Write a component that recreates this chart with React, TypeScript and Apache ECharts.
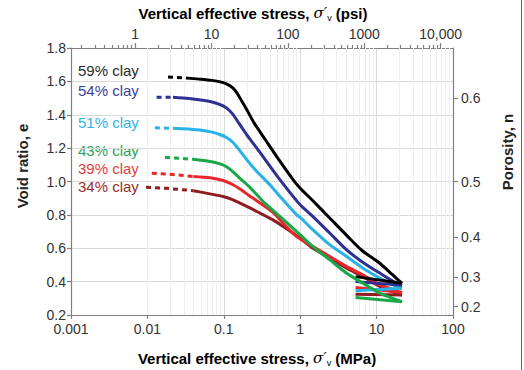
import React, { useEffect, useRef } from "react";
import * as echarts from "echarts";

// ---- Data (MPa, void ratio e) ----
const clayLabels = ["59% clay", "54% clay", "51% clay", "43% clay", "39% clay", "34% clay"];

const head59 = [[0.0186, 1.626], [0.028, 1.622], [0.036, 1.618]];
const load59 = [[0.036, 1.618], [0.05, 1.613], [0.07, 1.606], [0.09, 1.597], [0.11, 1.584], [0.13, 1.562], [0.15, 1.528], [0.17, 1.485], [0.2, 1.43], [0.25, 1.35], [0.35, 1.25], [0.545, 1.12], [0.81, 1.01], [1.0, 0.96], [1.5, 0.88], [2.45, 0.78], [4.2, 0.67], [6.5, 0.585], [11, 0.51], [16, 0.443], [21.5, 0.39]];
const unload59 = [[21.5, 0.39], [5.3, 0.43]];

const head54 = [[0.0132, 1.505], [0.0216, 1.505]];
const load54 = [[0.0216, 1.505], [0.035, 1.497], [0.05, 1.488], [0.07, 1.476], [0.09, 1.46], [0.11, 1.438], [0.13, 1.405], [0.16, 1.345], [0.2, 1.28], [0.27, 1.2], [0.35, 1.13], [0.545, 1.01], [1.0, 0.86], [1.47, 0.79], [2.45, 0.69], [4.06, 0.59], [6.64, 0.515], [11.1, 0.45], [18.3, 0.39], [21.5, 0.378]];
const unload54 = [[21.5, 0.378], [5.3, 0.4]];

const head51 = [[0.01255, 1.322], [0.0216, 1.319]];
const load51 = [[0.0216, 1.319], [0.035, 1.314], [0.0487, 1.309], [0.07, 1.296], [0.09, 1.28], [0.11, 1.262], [0.13, 1.237], [0.16, 1.188], [0.2, 1.13], [0.27, 1.06], [0.33, 1.02], [0.44, 0.96], [0.545, 0.91], [0.9, 0.8], [1.0, 0.785], [1.47, 0.71], [2.45, 0.62], [4.06, 0.55], [6.64, 0.48], [11.1, 0.42], [18.3, 0.37], [21.5, 0.36]];
const unload51 = [[21.5, 0.36], [5.3, 0.345]];

const head43 = [[0.017, 1.145], [0.0395, 1.133]];
const load43 = [[0.0395, 1.133], [0.0659, 1.12], [0.0891, 1.106], [0.11, 1.087], [0.132, 1.058], [0.16, 1.022], [0.22, 0.965], [0.345, 0.87], [0.545, 0.79], [1.0, 0.68], [1.47, 0.61], [2.45, 0.53], [4.06, 0.45], [6.64, 0.39], [11.1, 0.33], [21.5, 0.28]];
const unload43 = [[21.5, 0.28], [5.3, 0.305]];

const head39 = [[0.0114, 1.049], [0.0179, 1.045], [0.04, 1.03]];
const load39 = [[0.04, 1.03], [0.0659, 1.022], [0.0977, 1.006], [0.13, 0.982], [0.163, 0.955], [0.22, 0.912], [0.27, 0.885], [0.44, 0.815], [0.6, 0.75], [0.9, 0.67], [1.47, 0.61], [2.45, 0.55], [4.06, 0.49], [6.64, 0.44], [11.1, 0.38], [18.3, 0.345], [21.5, 0.335]];
const unload39 = [[21.5, 0.335], [5.3, 0.365]];

const head34 = [[0.0096, 0.965], [0.0179, 0.959], [0.04, 0.945]];
const load34 = [[0.04, 0.945], [0.0659, 0.926], [0.0977, 0.91], [0.13, 0.891], [0.163, 0.87], [0.22, 0.842], [0.27, 0.82], [0.44, 0.77], [0.6, 0.73], [1.0, 0.66], [1.47, 0.6], [2.45, 0.54], [4.06, 0.48], [6.64, 0.43], [11.1, 0.37], [18.3, 0.33], [21.5, 0.32]];
const unload34 = [[21.5, 0.32], [5.3, 0.325]];

// tick labels
const mpaTicks = [0.001, 0.01, 0.1, 1, 10, 100];
const psiMajor = [1, 10, 100, 1000, 10000];
const psiLabels = ["1", "10", "100", "1000", "10,000"];
const porosityTicks = [0.2, 0.3, 0.4, 0.5, 0.6];

const MPA_TO_PSI = 145.038;

const colors = ["#000000", "#2e3192", "#29b2e6", "#18a84a", "#e8262b", "#8f1c1e"];
const textColors = ["#2a2a2a", "#3d3f9c", "#32b3e3", "#2ea05a", "#e23c3c", "#9a2d2d"];

const FONT = "Liberation Sans, Arial, sans-serif";

export default function App() {
  const ref = useRef<HTMLDivElement>(null);
  useEffect(() => {
    if (!ref.current) return;
    const chart = echarts.init(ref.current, undefined, { renderer: "svg" });

    const curves = [
      [head59, load59, unload59],
      [head54, load54, unload54],
      [head51, load51, unload51],
      [head43, load43, unload43],
      [head39, load39, unload39],
      [head34, load34, unload34],
    ];

    // minor grid lines (2..9 per decade)
    const minorGrid: number[] = [];
    for (let d = -3; d < 2; d++) {
      for (let k = 2; k <= 9; k++) minorGrid.push(k * Math.pow(10, d));
    }
    const psiMin = Math.log10(0.001 * MPA_TO_PSI);
    const psiMax = Math.log10(100 * MPA_TO_PSI);
    const psiMinor: number[] = [];
    for (let d = -1; d < 5; d++) {
      for (let k = 2; k <= 9; k++) {
        const v = Math.log10(k * Math.pow(10, d));
        if (v > psiMin && v < psiMax) psiMinor.push(v);
      }
    }
    const psiMajorLog = psiMajor.map((p) => Math.log10(p));
    const eForN = porosityTicks.map((n) => n / (1 - n));

    const drawOrder = [5, 4, 2, 1, 0, 3];
    const series: any[] = [];
    drawOrder.forEach((i, idx) => {
      const [h, l, u] = curves[i];
      series.push({
        type: "line",
        name: clayLabels[i] + " early",
        data: h,
        xAxisIndex: 0,
        yAxisIndex: 0,
        showSymbol: false,
        symbol: "none",
        lineStyle: { color: colors[i], width: 3, type: [5, 4] },
        z: 3,
        silent: true,
      });
      const s: any = {
        type: "line",
        name: clayLabels[i],
        data: l,
        xAxisIndex: 0,
        yAxisIndex: 0,
        showSymbol: false,
        symbol: "none",
        smooth: 0.25,
        lineStyle: { color: colors[i], width: 3 },
        z: 3,
        silent: true,
      };
      if (idx === 0) {
        s.markLine = {
          silent: true,
          symbol: "none",
          label: { show: false },
          lineStyle: { color: "#efefef", width: 1, type: "solid" },
          data: minorGrid.map((v) => ({ xAxis: v })),
          z: 1,
        };
      }
      series.push(s);
      series.push({
        type: "line",
        name: clayLabels[i] + " unload",
        data: u,
        xAxisIndex: 0,
        yAxisIndex: 0,
        showSymbol: false,
        symbol: "none",
        lineStyle: { color: colors[i], width: 3 },
        z: 3,
        silent: true,
      });
    });

    const axisLineStyle = { color: "#808080", width: 1.2 };
    const labelStyle = { color: "#333", fontSize: 14, fontFamily: FONT };

    const titleRich = {
      b: { fontSize: 15, fontWeight: "bold", fontFamily: FONT, color: "#222", lineHeight: 19, verticalAlign: "middle" },
      s: { fontSize: 15, fontStyle: "italic", fontFamily: "DejaVu Serif, serif", color: "#222", lineHeight: 19, verticalAlign: "middle" },
      v: { fontSize: 9, fontFamily: FONT, color: "#222", lineHeight: 19, verticalAlign: "bottom" },
    };

    chart.setOption({
      animation: false,
      backgroundColor: "#ffffff",
      grid: { left: 71, right: 71, top: 48, bottom: 55, containLabel: false },
      xAxis: [
        {
          type: "log",
          logBase: 10,
          min: 0.001,
          max: 100,
          position: "bottom",
          axisLine: { show: true, lineStyle: axisLineStyle },
          axisTick: { show: true, length: 4, lineStyle: axisLineStyle },
          axisLabel: {
            ...labelStyle,
            margin: 7,
            customValues: mpaTicks,
            formatter: (v: number) => String(Number(v.toPrecision(3))),
          },
          splitLine: { show: true, lineStyle: { color: "#dadada", width: 1 } },
        },
        {
          type: "value",
          min: psiMin,
          max: psiMax,
          position: "top",
          axisLine: { show: true, onZero: false, lineStyle: axisLineStyle },
          axisTick: { show: true, length: 5, customValues: psiMajorLog, lineStyle: axisLineStyle },
          axisLabel: {
            ...labelStyle,
            margin: 7,
            customValues: psiMajorLog,
            formatter: (v: number) => {
              const idx = psiMajorLog.findIndex((p) => Math.abs(p - v) < 1e-6);
              return idx >= 0 ? psiLabels[idx] : "";
            },
          },
          splitLine: { show: false },
        },
        {
          type: "value",
          min: psiMin,
          max: psiMax,
          position: "top",
          axisLine: { show: false },
          axisTick: { show: true, length: 3, customValues: psiMinor, lineStyle: axisLineStyle },
          axisLabel: { show: false },
          splitLine: { show: false },
        },
      ],
      yAxis: [
        {
          type: "value",
          min: 0.2,
          max: 1.8,
          interval: 0.2,
          position: "left",
          axisLine: { show: true, onZero: false, lineStyle: axisLineStyle },
          axisTick: { show: true, length: 4, lineStyle: axisLineStyle },
          axisLabel: { ...labelStyle, margin: 5, formatter: (v: number) => v.toFixed(1) },
          splitLine: { show: true, lineStyle: { color: "#dadada", width: 1 } },
        },
        {
          type: "value",
          min: 0.2,
          max: 1.8,
          position: "right",
          axisLine: { show: true, onZero: false, lineStyle: axisLineStyle },
          axisTick: { show: true, length: 5, customValues: eForN, lineStyle: axisLineStyle },
          axisLabel: {
            ...labelStyle,
            margin: 8,
            customValues: eForN,
            formatter: (v: number) => (v / (1 + v)).toFixed(1),
          },
          splitLine: { show: false },
        },
      ],
      series,
      graphic: [
        ...clayLabels.map((t, i) => ({
          type: "text",
          left: 78,
          top: [63, 83, 115, 143, 161, 179][i],
          silent: true,
          style: { text: t, fill: textColors[i], fontSize: 15, fontFamily: FONT },
        })),
        {
          type: "text",
          x: 253,
          y: 13,
          silent: true,
          style: {
            text: "{b|Vertical effective stress, }{s|σ′}{v|v}{b| (psi)}",
            rich: titleRich,
            align: "center",
            verticalAlign: "middle",
          },
        },
        {
          type: "text",
          x: 257,
          y: 358,
          silent: true,
          style: {
            text: "{b|Vertical effective stress, }{s|σ′}{v|v}{b| (MPa)}",
            rich: titleRich,
            align: "center",
            verticalAlign: "middle",
          },
        },
        {
          type: "text",
          x: 22,
          y: 166,
          rotation: Math.PI / 2,
          silent: true,
          style: {
            text: "Void ratio, e",
            fontSize: 15,
            fontWeight: "bold",
            fontFamily: FONT,
            fill: "#222",
            align: "center",
            verticalAlign: "middle",
          },
        },
        {
          type: "text",
          x: 507,
          y: 152,
          rotation: Math.PI / 2,
          silent: true,
          style: {
            text: "Porosity, n",
            fontSize: 15,
            fontWeight: "bold",
            fontFamily: FONT,
            fill: "#222",
            align: "center",
            verticalAlign: "middle",
          },
        },
        {
          type: "line",
          silent: true,
          shape: { x1: 521.5, y1: 0, x2: 521.5, y2: 370 },
          style: { stroke: "#666", lineWidth: 1 },
        },
      ],
    });
    return () => chart.dispose();
  }, []);
  return <div ref={ref} style={{ position: "absolute", left: 0, top: 0, width: 524, height: 370 }} />;
}
